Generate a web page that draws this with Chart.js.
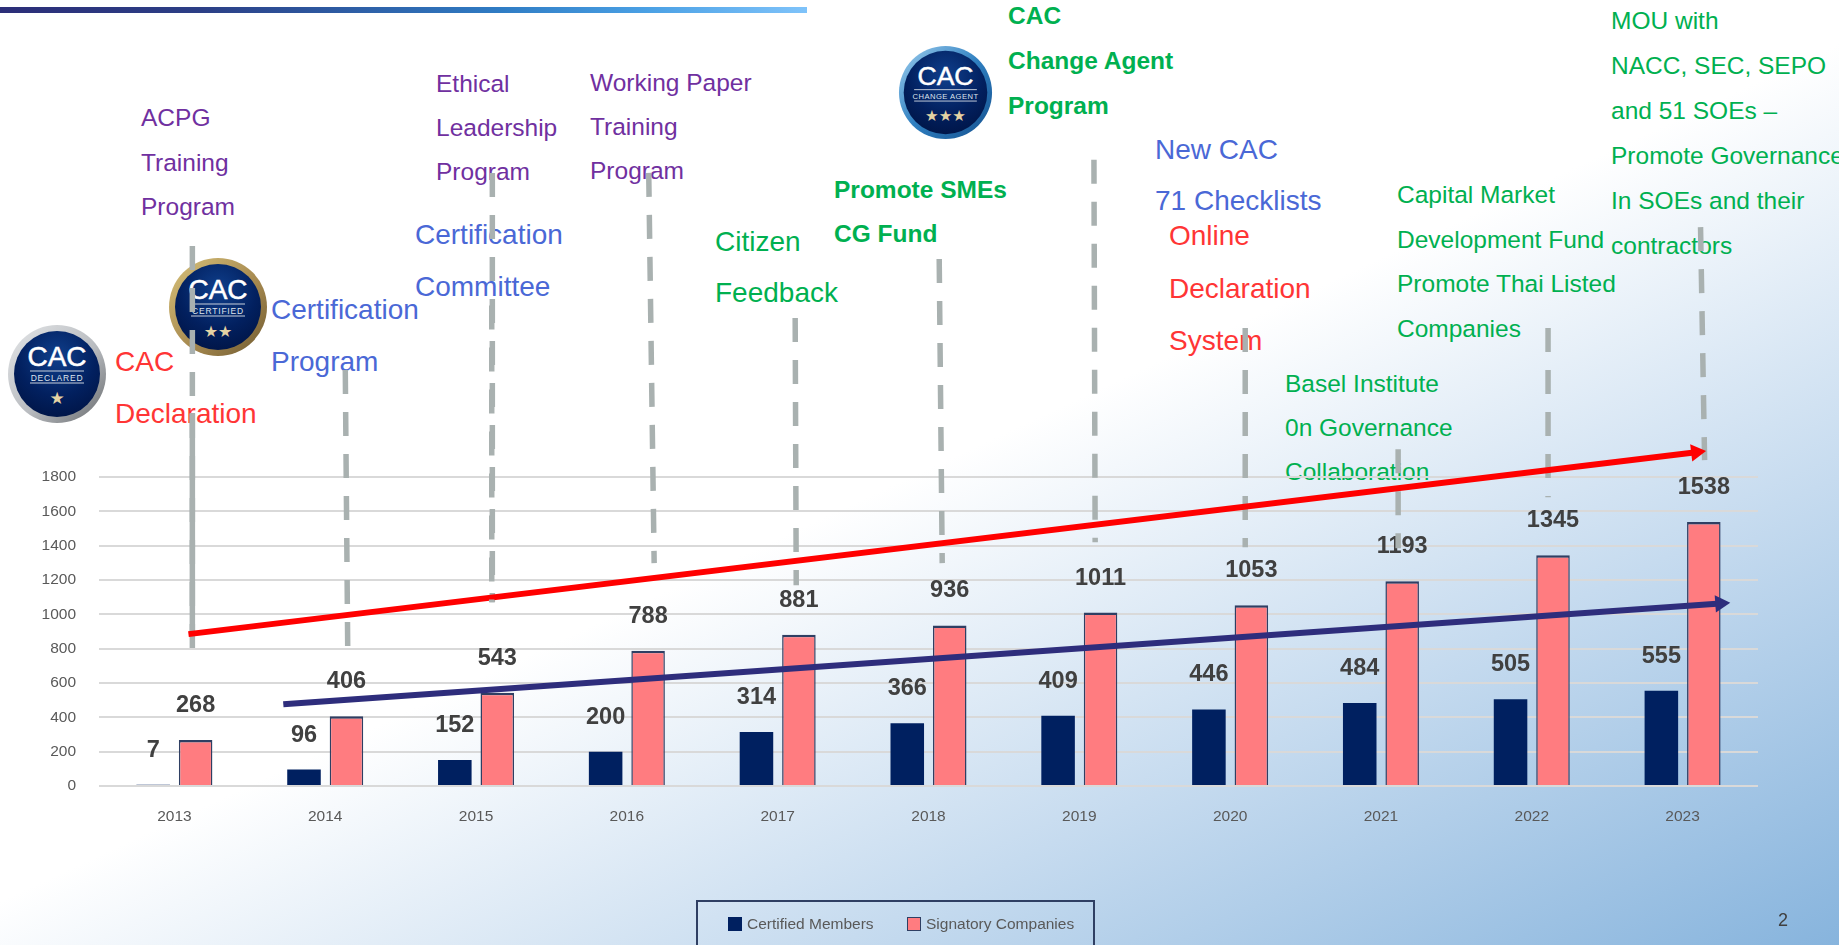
<!DOCTYPE html>
<html>
<head>
<meta charset="utf-8">
<title>CAC members</title>
<script src="https://cdn.jsdelivr.net/npm/chart.js@4"></script>
<style>
html, body { margin: 0; padding: 0; }
body {
    width: 1839px; height: 945px; overflow: hidden; position: relative;
    font-family: "Liberation Sans", Arial, sans-serif;
    background: linear-gradient(155deg, #ffffff 50%, #c6dbef 74%, #87b4dd 100%);
}
#topBar {
    position: absolute; left: 0; top: 7px; width: 807px; height: 6px;
    background: linear-gradient(90deg, #2c2e78 0%, #2c3f86 25%, #2f7cc4 62%, #4aa0e4 80%, #7fc3fa 100%);
}
canvas { position: absolute; left: 0; top: 0; }
.note { position: absolute; white-space: nowrap; }
.purple { color: #7030a0; font-size: 24.5px; }
.green { color: #00b050; font-size: 24.5px; }
.bold { font-weight: bold; }
.blue { color: #4a68d6; font-size: 28px; }
.red { color: #ff3535; font-size: 28px; }
.badge { position: absolute; }
#legendBox {
    position: absolute; left: 696px; top: 900px; width: 399px; height: 60px;
    border: 2px solid #2f3f63; box-sizing: border-box;
}
.legendItem { position: absolute; top: 13px; font-size: 15.5px; color: #595959; white-space: nowrap; line-height: 18px; }
.legendItem i { position: absolute; left: -19px; top: 2px; width: 14px; height: 14px; box-sizing: border-box; }
#pageNo { position: absolute; left: 1778px; top: 910px; font-size: 18px; color: #404040; }
</style>
</head>
<body>
<div id="topBar"></div>

<svg width="0" height="0" style="position:absolute">
  <defs>
    <radialGradient id="navyFill" cx="50%" cy="30%" r="75%">
      <stop offset="0%" stop-color="#0f3f8c"/><stop offset="60%" stop-color="#02205f"/><stop offset="100%" stop-color="#001445"/>
    </radialGradient>
    <linearGradient id="silverRing" x1="0" y1="0" x2="1" y2="1">
      <stop offset="0%" stop-color="#e4e6e8"/><stop offset="55%" stop-color="#b9bcc0"/><stop offset="100%" stop-color="#66696c"/>
    </linearGradient>
    <linearGradient id="goldRing" x1="0" y1="0" x2="1" y2="1">
      <stop offset="0%" stop-color="#d8c27a"/><stop offset="55%" stop-color="#a78a50"/><stop offset="100%" stop-color="#6f5a30"/>
    </linearGradient>
    <linearGradient id="blueRing" x1="0" y1="0" x2="1" y2="1">
      <stop offset="0%" stop-color="#9fd0f0"/><stop offset="50%" stop-color="#2f7fc0"/><stop offset="100%" stop-color="#14508e"/>
    </linearGradient>
  </defs>
</svg>
<svg class="badge" style="left:7px;top:324px" width="100" height="100" viewBox="0 0 100 100">
  <circle cx="50" cy="50" r="49" fill="url(#silverRing)"/><circle cx="50" cy="50" r="43" fill="url(#navyFill)"/>
  <text x="50" y="42" text-anchor="middle" font-size="28" fill="#fff" font-family="Liberation Sans" stroke="#fff" stroke-width="0.5">CAC</text>
  <path d="M23 47H77M23 59H77" stroke="#c8d0dc" stroke-width="1"/>
  <text x="50" y="56.5" text-anchor="middle" font-size="8.5" fill="#dfe4ec" font-family="Liberation Sans" letter-spacing="0.8">DECLARED</text>
  <text x="50" y="80" text-anchor="middle" font-size="17" fill="#e4d3a4" font-family="DejaVu Sans">★</text>
</svg>
<svg class="badge" style="left:168px;top:257px" width="100" height="100" viewBox="0 0 100 100">
  <circle cx="50" cy="50" r="49" fill="url(#goldRing)"/><circle cx="50" cy="50" r="43" fill="url(#navyFill)"/>
  <text x="50" y="42" text-anchor="middle" font-size="28" fill="#fff" font-family="Liberation Sans" stroke="#fff" stroke-width="0.5">CAC</text>
  <path d="M23 47H77M23 59H77" stroke="#c8d0dc" stroke-width="1"/>
  <text x="50" y="56.5" text-anchor="middle" font-size="8.5" fill="#dfe4ec" font-family="Liberation Sans" letter-spacing="0.8">CERTIFIED</text>
  <text x="50" y="80" text-anchor="middle" font-size="16" fill="#e4d3a4" font-family="DejaVu Sans">★★</text>
</svg>
<svg class="badge" style="left:898px;top:45px" width="95" height="95" viewBox="0 0 100 100">
  <circle cx="50" cy="50" r="49" fill="url(#blueRing)"/><circle cx="50" cy="50" r="44" fill="url(#navyFill)"/>
  <text x="50" y="42" text-anchor="middle" font-size="28" fill="#fff" font-family="Liberation Sans" stroke="#fff" stroke-width="0.5">CAC</text>
  <path d="M17 47H83M17 59H83" stroke="#c8d0dc" stroke-width="1"/>
  <text x="50" y="56.5" text-anchor="middle" font-size="8" fill="#dfe4ec" font-family="Liberation Sans" letter-spacing="0.5">CHANGE AGENT</text>
  <text x="50" y="80" text-anchor="middle" font-size="16" fill="#e4d3a4" font-family="DejaVu Sans">★★★</text>
</svg>

<div class="note red" style="left:115px;top:336px;line-height:52px">CAC<br>Declaration</div>
<div class="note purple" style="left:141px;top:96px;line-height:44.5px">ACPG<br>Training<br>Program</div>
<div class="note blue" style="left:271px;top:284px;line-height:52px">Certification<br>Program</div>
<div class="note purple" style="left:436px;top:62px;line-height:44px">Ethical<br>Leadership<br>Program</div>
<div class="note blue" style="left:415px;top:209px;line-height:52px">Certification<br>Committee</div>
<div class="note purple" style="left:590px;top:61px;line-height:44px">Working Paper<br>Training<br>Program</div>
<div class="note green" style="left:715px;top:216px;font-size:28px;line-height:51px">Citizen<br>Feedback</div>
<div class="note green bold" style="left:834px;top:168px;line-height:44px">Promote SMEs<br>CG Fund</div>
<div class="note green bold" style="left:1008px;top:-7px;line-height:45px">CAC<br>Change Agent<br>Program</div>
<div class="note blue" style="left:1155px;top:124px;line-height:51px">New CAC<br>71 Checklists</div>
<div class="note red" style="left:1169px;top:210px;line-height:52.5px">Online<br>Declaration<br>System</div>
<div class="note green" style="left:1285px;top:362px;line-height:44px">Basel Institute<br>0n Governance<br>Collaboration</div>
<div class="note green" style="left:1397px;top:173px;line-height:44.5px">Capital Market<br>Development Fund<br>Promote Thai Listed<br>Companies</div>
<div class="note green" style="left:1611px;top:-2px;line-height:45px">MOU with<br>NACC, SEC, SEPO<br>and 51 SOEs –<br>Promote Governance<br>In SOEs and their<br>contractors</div>

<canvas id="barChart" width="1839" height="945"></canvas>

<div id="legendBox"></div>
<div id="pageNo">2</div>

<script>
const years = ["2013", "2014", "2015", "2016", "2017", "2018", "2019", "2020", "2021", "2022", "2023"];
const certifiedMembers = [7, 96, 152, 200, 314, 366, 409, 446, 484, 505, 555];
const signatoryCompanies = [268, 406, 543, 788, 881, 936, 1011, 1053, 1193, 1345, 1538];

// milestone guides, x in years from 2013 and y in axis units (they run above the 1800 gridline)
const guideTopYear = [0.119, 0.119, 1.133, 2.108, 2.104, 3.145, 4.116, 5.071, 6.097, 7.1, 8.114, 9.108, 10.119];
const guideEndYear = [0.119, 0.119, 1.149, 2.108, 2.104, 3.181, 4.123, 5.091, 6.105, 7.1, 8.114, 9.108, 10.146];
const guideTopValue = [3147, 2174, 2424, 3573, 2800, 3573, 2727, 3071, 3649, 2669, 1963, 2669, 3257];
const guideEndValue = [727, 873, 816, 1071, 1071, 1299, 1170, 1299, 1421, 1392, 1386, 1683, 1899];
const solidGuides = [1];

// growth arrows
const redArrowYears = [0.093, 10.09];
const redArrowValues = [885, 1945];
const navyArrowYears = [0.722, 10.25];
const navyArrowValues = [476, 1064];

const NAVY = "#002060", PINK = "#ff7c80", BAR_EDGE = "#2f3f63", GUIDE = "#a9b1b0";

const guideSets = guideTopYear.map(function (year, i) {
    return {
        type: "line", parsing: false, order: i === 4 ? 0 : 5,
        data: [{ x: year, y: guideTopValue[i] }, { x: guideEndYear[i], y: guideEndValue[i] }],
        borderColor: GUIDE, borderWidth: 5.5, pointRadius: 0,
        borderDash: solidGuides.includes(i) ? [] : [24, 18]
    };
});

function arrowSet(xs, ys, color, angle, order) {
    return {
        type: "line", parsing: false, order: order,
        data: xs.map(function (x, i) { return { x: x, y: ys[i] }; }),
        borderColor: color, borderWidth: 6,
        pointStyle: "triangle", pointRadius: [0, 10], pointRotation: [0, angle],
        pointBackgroundColor: color, pointBorderWidth: 0
    };
}

// value labels sit between the bars and the guides, so they go here and not after all datasets
const barLabels = {
    id: "barLabels",
    afterDatasetDraw: function (chart, args) {
        if (args.index > 1) return;
        const ctx = chart.ctx;
        ctx.save();
        ctx.font = 'bold 23.5px "Liberation Sans"';
        ctx.fillStyle = "#404040";
        ctx.textAlign = "center";
        ctx.textBaseline = "middle";
        args.meta.data.forEach(function (bar, i) {
            ctx.fillText(chart.data.datasets[args.index].data[i], bar.x, bar.y - 34.5);
        });
        ctx.restore();
    }
};

const barChart = new Chart(document.getElementById("barChart"), {
    data: {
        labels: years,
        datasets: [
            { type: "bar", label: "Certified Members", data: certifiedMembers, backgroundColor: NAVY, order: 10,
              categoryPercentage: 0.563, barPercentage: 0.79 },
            { type: "bar", label: "Signatory Companies", data: signatoryCompanies, backgroundColor: PINK, order: 11,
              borderColor: BAR_EDGE, borderWidth: { top: 2.5, left: 1.5, right: 1.5, bottom: 0 },
              categoryPercentage: 0.563, barPercentage: 0.79 }
        ].concat(guideSets, [
            arrowSet(redArrowYears, redArrowValues, "#ff0000", 83, 2),
            arrowSet(navyArrowYears, navyArrowValues, "#2e2d7c", 86, 1)
        ])
    },
    options: {
        responsive: false,
        animation: false,
        layout: { padding: { top: 31, right: 81, left: 0, bottom: 0 } },
        plugins: { legend: { display: false }, tooltip: { enabled: false } },
        scales: {
            x: {
                grid: { display: false },
                border: { display: false },
                afterFit: function (scale) { scale.height = 159; },
                ticks: { color: "#595959", font: { family: "Liberation Sans", size: 15.5 }, padding: 13, maxRotation: 0 }
            },
            y: {
                // the area runs far above 1800 so the guides and arrow heads stay in it
                min: 0, max: 4400,
                border: { display: false },
                grid: { color: "#d9d9d9", lineWidth: 2, drawTicks: false },
                afterBuildTicks: function (scale) { scale.ticks = scale.ticks.filter(function (t) { return t.value <= 1800; }); },
                afterFit: function (scale) { scale.width = 99; scale.paddingTop = 0; },
                ticks: { stepSize: 200, color: "#595959", font: { family: "Liberation Sans", size: 15.5 }, padding: 23,
                         callback: function (value) { return value; } }
            }
        }
    },
    plugins: [barLabels]
});

// legend is html, the box in the reference is not centred on the chart
const legendLefts = ["745px", "924px"];
barChart.data.datasets.slice(0, 2).forEach(function (set, i) {
    const item = document.createElement("div");
    item.className = "legendItem";
    item.style.left = "calc(" + legendLefts[i] + " - 696px)";
    item.innerHTML = '<i style="background:' + set.backgroundColor + ';' + (set.borderColor ? 'border:1.5px solid ' + set.borderColor : '') + '"></i>' + set.label;
    document.getElementById("legendBox").appendChild(item);
});
</script>
</body>
</html>
